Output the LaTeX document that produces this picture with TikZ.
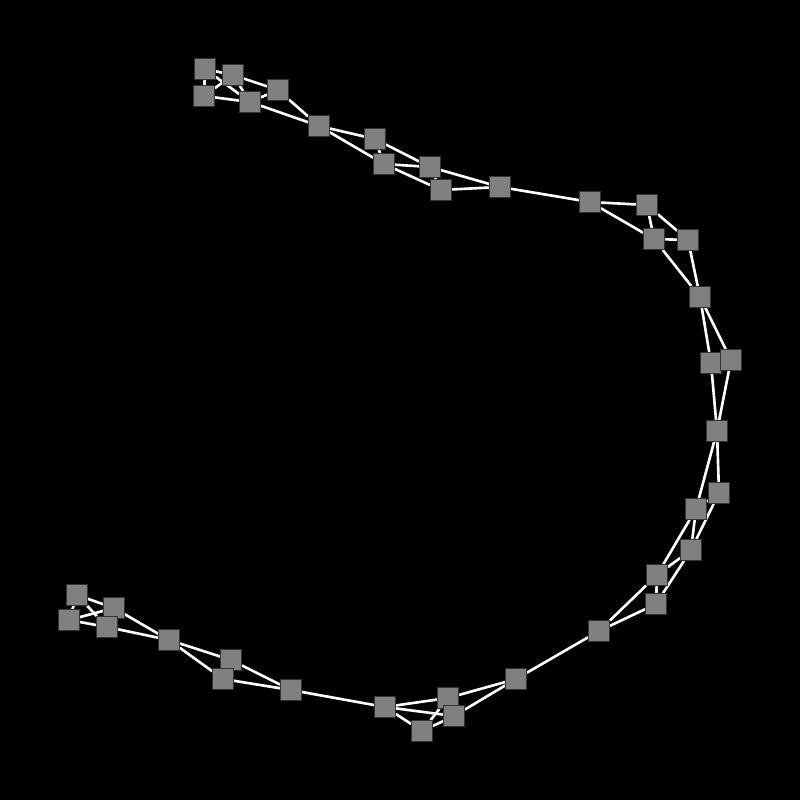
\documentclass[tikz,border=0pt]{standalone}
\usetikzlibrary{backgrounds}

\begin{document}
\begin{tikzpicture}[x=0.02cm, y=-0.02cm]
			\tikzstyle{every node}=[draw=black!80, line width=0.4pt, fill=gray, minimum size=0.42cm, inner sep=0pt]
			\tikzstyle{link}=[draw=white, line width=1.5pt]
			\node (v1) at (205, 69) {};
			\node (v2) at (204, 96) {};
			\node (v3) at (233, 75) {};
			\node (v4) at (250, 102) {};
			\node (v5) at (278, 90) {};
			\node (v6) at (319, 126) {};
			\node (v7) at (375, 139) {};
			\node (v8) at (384, 164) {};
			\node (v9) at (430, 167) {};
			\node (v10) at (441, 190) {};
			\node (v11) at (500, 187) {};
			\node (v12) at (590, 202) {};
			\node (v13) at (647, 205) {};
			\node (v14) at (654, 239) {};
			\node (v15) at (688, 240) {};
			\node (v16) at (700, 297) {};
			\node (v17) at (711, 363) {};
			\node (v18) at (731, 360) {};
			\node (v19) at (717, 431) {};
			\node (v20) at (719, 493) {};
			\node (v21) at (696, 509) {};
			\node (v22) at (691, 550) {};
			\node (v23) at (657, 575) {};
			\node (v24) at (656, 604) {};
			\node (v25) at (599, 631) {};
			\node (v26) at (516, 679) {};
			\node (v27) at (448, 698) {};
			\node (v28) at (454, 716) {};
			\node (v29) at (422, 731) {};
			\node (v30) at (385, 707) {};
			\node (v31) at (291, 690) {};
			\node (v32) at (231, 660) {};
			\node (v33) at (223, 679) {};
			\node (v34) at (169, 640) {};
			\node (v35) at (114, 608) {};
			\node (v36) at (107, 627) {};
			\node (v37) at (77, 595) {};
			\node (v38) at (69, 620) {};
			\begin{scope}[on background layer]
			\fill[black] (0, 0) rectangle (800, 800);
			\draw [link] (v1) -- (v2); \draw [link] (v1) -- (v3); \draw [link] (v1) -- (v4);
			\draw [link] (v2) -- (v3); \draw [link] (v2) -- (v4); \draw [link] (v3) -- (v4);
			\draw [link] (v3) -- (v5); \draw [link] (v4) -- (v5); \draw [link] (v4) -- (v6);
			\draw [link] (v5) -- (v6); \draw [link] (v6) -- (v7); \draw [link] (v6) -- (v8);
			\draw [link] (v7) -- (v8); \draw [link] (v7) -- (v9); \draw [link] (v8) -- (v9);
			\draw [link] (v8) -- (v10); \draw [link] (v9) -- (v10); \draw [link] (v9) -- (v11);
			\draw [link] (v10) -- (v11); \draw [link] (v11) -- (v12);
			\draw [link] (v12) -- (v13); \draw [link] (v12) -- (v14); \draw [link] (v13) -- (v14);
			\draw [link] (v13) -- (v15); \draw [link] (v14) -- (v15); \draw [link] (v14) -- (v16);
			\draw [link] (v15) -- (v16); \draw [link] (v16) -- (v17); \draw [link] (v16) -- (v18);
			\draw [link] (v17) -- (v19); \draw [link] (v18) -- (v19);
			\draw [link] (v19) -- (v20); \draw [link] (v19) -- (v21); \draw [link] (v20) -- (v21);
			\draw [link] (v20) -- (v22); \draw [link] (v21) -- (v22); \draw [link] (v21) -- (v23);
			\draw [link] (v22) -- (v23); \draw [link] (v22) -- (v24); \draw [link] (v23) -- (v24);
			\draw [link] (v23) -- (v25); \draw [link] (v24) -- (v25); \draw [link] (v25) -- (v26);
			\draw [link] (v26) -- (v27); \draw [link] (v26) -- (v28);
			\draw [link] (v27) -- (v29); \draw [link] (v27) -- (v30); \draw [link] (v28) -- (v29);
			\draw [link] (v28) -- (v30); \draw [link] (v29) -- (v30); \draw [link] (v30) -- (v31);
			\draw [link] (v31) -- (v32); \draw [link] (v31) -- (v33);
			\draw [link] (v32) -- (v34); \draw [link] (v33) -- (v34);
			\draw [link] (v34) -- (v35); \draw [link] (v34) -- (v36);
			\draw [link] (v35) -- (v37); \draw [link] (v35) -- (v38); \draw [link] (v36) -- (v37);
			\draw [link] (v36) -- (v38); \draw [link] (v37) -- (v38);
			\end{scope}
	\end{tikzpicture}
\end{document}
